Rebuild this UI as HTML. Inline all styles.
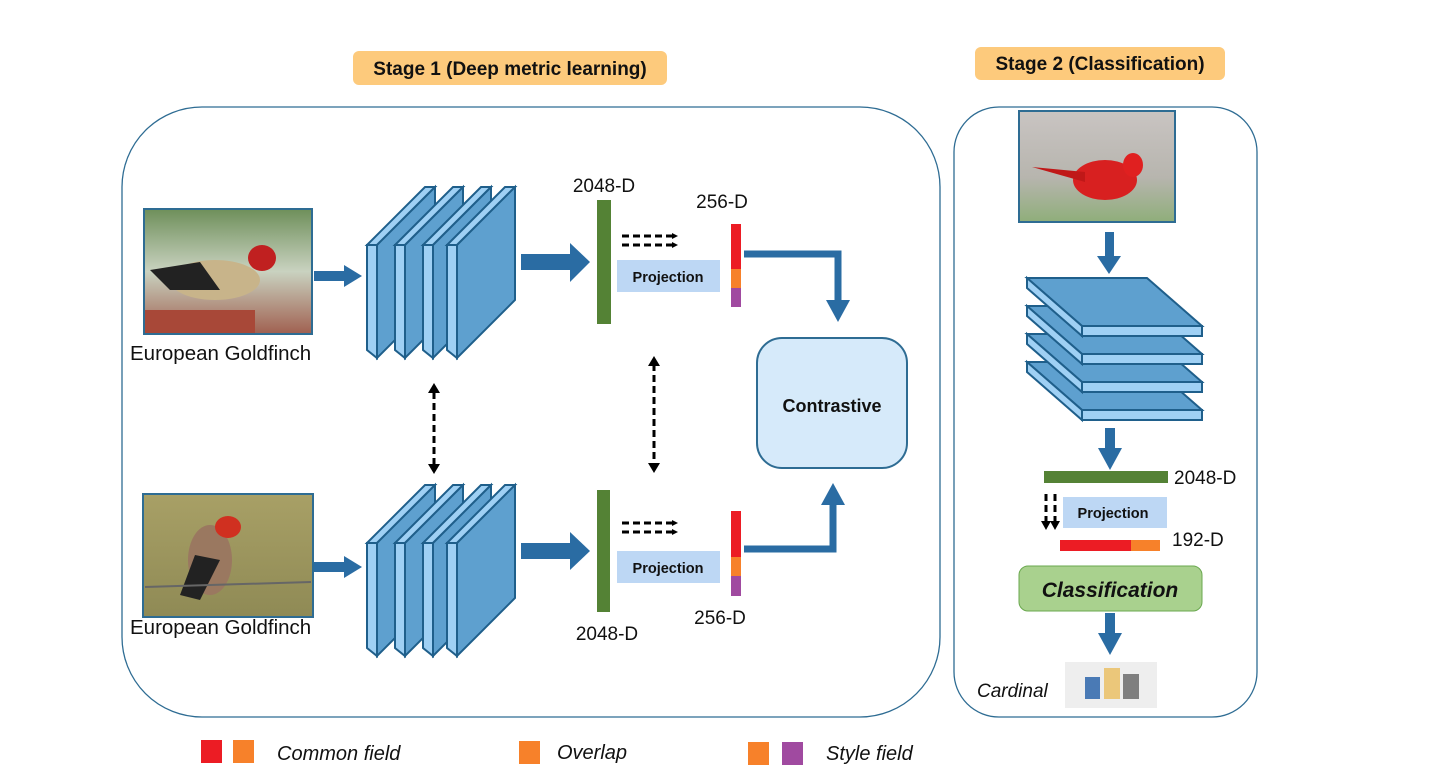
<!DOCTYPE html>
<html><head><meta charset="utf-8"><style>
html,body{margin:0;padding:0;background:#fff;}
svg{display:block;font-family:"Liberation Sans",sans-serif;}
</style></head><body>
<svg width="1440" height="768" viewBox="0 0 1440 768" xmlns="http://www.w3.org/2000/svg">
<defs>
<linearGradient id="g1" x1="0" y1="0" x2="0" y2="1"><stop offset="0" stop-color="#6e8f5a"/><stop offset="0.5" stop-color="#c9d2c0"/><stop offset="1" stop-color="#a06050"/></linearGradient>
<linearGradient id="g2" x1="0" y1="0" x2="0" y2="1"><stop offset="0" stop-color="#a8a066"/><stop offset="1" stop-color="#8f8a55"/></linearGradient>
<linearGradient id="g3" x1="0" y1="0" x2="0" y2="1"><stop offset="0" stop-color="#c9c4c2"/><stop offset="0.6" stop-color="#b7b5ae"/><stop offset="1" stop-color="#8fae7a"/></linearGradient>
<g id="slab">
<polygon points="0,58 58,0 68,0 10,58" fill="#9fd0f4" stroke="#1f5f8b" stroke-width="2"/>
<polygon points="0,58 10,58 10,171 0,163" fill="#9fd0f4" stroke="#1f5f8b" stroke-width="2"/>
<polygon points="10,58 68,0 68,113 10,171" fill="#5ea0cf" stroke="#1f5f8b" stroke-width="2"/>
</g>
<g id="hslab">
<polygon points="0,0 120,0 175,48 55,48" fill="#5ea0cf" stroke="#1f5f8b" stroke-width="2"/>
<polygon points="0,0 55,48 55,58 0,10" fill="#9fd0f4" stroke="#1f5f8b" stroke-width="2"/>
<polygon points="55,48 175,48 175,58 55,58" fill="#9fd0f4" stroke="#1f5f8b" stroke-width="2"/>
</g>
<marker id="ah" markerWidth="6" markerHeight="6" refX="5" refY="3" orient="auto" markerUnits="userSpaceOnUse"><path d="M0,0 L6,3 L0,6z" fill="#000"/></marker>
</defs>

<rect x="353" y="51" width="314" height="34" rx="6" fill="#fdca7c"/>
<text x="510" y="75" text-anchor="middle" font-size="19" font-weight="bold" fill="#111">Stage 1 (Deep metric learning)</text>
<rect x="975" y="47" width="250" height="33" rx="6" fill="#fdca7c"/>
<text x="1100" y="70" text-anchor="middle" font-size="19" font-weight="bold" fill="#111">Stage 2 (Classification)</text>

<rect x="122" y="107" width="818" height="610" rx="80" fill="none" stroke="#2e6c93" stroke-width="1.3"/>
<rect x="954" y="107" width="303" height="610" rx="45" fill="none" stroke="#2e6c93" stroke-width="1.3"/>

<rect x="144" y="209" width="168" height="125" fill="url(#g1)" stroke="#2e6c93" stroke-width="2"/>
<ellipse cx="215" cy="280" rx="45" ry="20" fill="#c8b48a"/>
<polygon points="150,270 200,262 220,290 170,290" fill="#222"/>
<ellipse cx="262" cy="258" rx="14" ry="13" fill="#c02020"/>
<rect x="145" y="310" width="110" height="23" fill="#a84838"/>
<rect x="143" y="494" width="170" height="123" fill="url(#g2)" stroke="#2e6c93" stroke-width="2"/>
<ellipse cx="210" cy="560" rx="22" ry="35" fill="#9a7860"/>
<polygon points="195,555 220,560 200,600 180,595" fill="#222"/>
<ellipse cx="228" cy="527" rx="13" ry="11" fill="#d03020"/>
<line x1="145" y1="587" x2="311" y2="582" stroke="#666" stroke-width="2"/>
<rect x="1019" y="111" width="156" height="111" fill="url(#g3)" stroke="#2e6c93" stroke-width="2"/>
<ellipse cx="1105" cy="180" rx="32" ry="20" fill="#d82020"/>
<polygon points="1032,167 1085,172 1085,182" fill="#c01818"/>
<ellipse cx="1133" cy="165" rx="10" ry="12" fill="#e02020"/>

<text x="130" y="360" font-size="20.5" fill="#111">European Goldfinch</text>
<text x="130" y="634" font-size="20.5" fill="#111">European Goldfinch</text>

<rect x="314" y="271" width="32" height="10" fill="#2a6ca3"/><polygon points="344,265 362,276 344,287" fill="#2a6ca3"/>
<rect x="314" y="562" width="32" height="10" fill="#2a6ca3"/><polygon points="344,556 362,567 344,578" fill="#2a6ca3"/>

<use href="#slab" x="367" y="187"/><use href="#slab" x="395" y="187"/><use href="#slab" x="423" y="187"/><use href="#slab" x="447" y="187"/>
<use href="#slab" x="367" y="485"/><use href="#slab" x="395" y="485"/><use href="#slab" x="423" y="485"/><use href="#slab" x="447" y="485"/>

<rect x="521" y="254" width="50" height="16" fill="#2a6ca3"/><polygon points="570,243 590,262 570,282" fill="#2a6ca3"/>
<rect x="521" y="543" width="50" height="16" fill="#2a6ca3"/><polygon points="570,532 590,551 570,570" fill="#2a6ca3"/>

<rect x="597" y="200" width="14" height="124" fill="#548235"/>
<rect x="597" y="490" width="13" height="122" fill="#548235"/>
<text x="604" y="192" text-anchor="middle" font-size="19" fill="#111">2048-D</text>
<text x="607" y="640" text-anchor="middle" font-size="19" fill="#111">2048-D</text>

<g stroke="#000" stroke-width="3" stroke-dasharray="7,4" fill="none">
<line x1="622" y1="236" x2="677" y2="236" marker-end="url(#ah)"/>
<line x1="622" y1="245" x2="677" y2="245" marker-end="url(#ah)"/>
<line x1="622" y1="523" x2="677" y2="523" marker-end="url(#ah)"/>
<line x1="622" y1="532" x2="677" y2="532" marker-end="url(#ah)"/>
<line x1="434" y1="392" x2="434" y2="466"/>
<line x1="654" y1="364" x2="654" y2="464"/>
<line x1="1046" y1="494" x2="1046" y2="523"/>
<line x1="1055" y1="494" x2="1055" y2="523"/>
</g>
<g fill="#000">
<polygon points="428,393 434,383 440,393"/><polygon points="428,464 434,474 440,464"/>
<polygon points="648,366 654,356 660,366"/><polygon points="648,463 654,473 660,463"/>
<polygon points="1041,521 1046,530 1051,521"/><polygon points="1050,521 1055,530 1060,521"/>
</g>

<rect x="617" y="260" width="103" height="32" fill="#bdd7f4"/>
<text x="668" y="282" text-anchor="middle" font-size="14.5" font-weight="bold" fill="#111">Projection</text>
<rect x="617" y="551" width="103" height="32" fill="#bdd7f4"/>
<text x="668" y="573" text-anchor="middle" font-size="14.5" font-weight="bold" fill="#111">Projection</text>

<rect x="731" y="224" width="10" height="45" fill="#ec1c24"/><rect x="731" y="269" width="10" height="19" fill="#f7812a"/><rect x="731" y="288" width="10" height="19" fill="#a04aa0"/>
<rect x="731" y="511" width="10" height="46" fill="#ec1c24"/><rect x="731" y="557" width="10" height="19" fill="#f7812a"/><rect x="731" y="576" width="10" height="20" fill="#a04aa0"/>
<text x="722" y="208" text-anchor="middle" font-size="19" fill="#111">256-D</text>
<text x="720" y="624" text-anchor="middle" font-size="19" fill="#111">256-D</text>

<path d="M744,254 H838 V302" fill="none" stroke="#2a6ca3" stroke-width="7"/>
<polygon points="826,300 850,300 838,322" fill="#2a6ca3"/>
<path d="M744,549 H833 V503" fill="none" stroke="#2a6ca3" stroke-width="7"/>
<polygon points="821,505 845,505 833,483" fill="#2a6ca3"/>

<rect x="757" y="338" width="150" height="130" rx="25" fill="#d6eafa" stroke="#2e6c93" stroke-width="2"/>
<text x="832" y="412" text-anchor="middle" font-size="18" font-weight="bold" fill="#111">Contrastive</text>

<rect x="1105" y="232" width="9" height="26" fill="#2a6ca3"/><polygon points="1097,256 1121,256 1109,274" fill="#2a6ca3"/>
<use href="#hslab" x="1027" y="362"/><use href="#hslab" x="1027" y="334"/><use href="#hslab" x="1027" y="306"/><use href="#hslab" x="1027" y="278"/>
<rect x="1105" y="428" width="10" height="22" fill="#2a6ca3"/><polygon points="1098,448 1122,448 1110,470" fill="#2a6ca3"/>
<rect x="1044" y="471" width="124" height="12" fill="#548235"/>
<text x="1174" y="484" font-size="19" fill="#111">2048-D</text>
<rect x="1063" y="497" width="104" height="31" fill="#bdd7f4"/>
<text x="1113" y="518" text-anchor="middle" font-size="14.5" font-weight="bold" fill="#111">Projection</text>
<rect x="1060" y="540" width="71" height="11" fill="#ec1c24"/><rect x="1131" y="540" width="29" height="11" fill="#f7812a"/>
<text x="1172" y="546" font-size="19" fill="#111">192-D</text>
<rect x="1019" y="566" width="183" height="45" rx="9" fill="#a9d18e" stroke="#6aa84f" stroke-width="1"/>
<text x="1110" y="597" text-anchor="middle" font-size="21" font-weight="bold" font-style="italic" fill="#111">Classification</text>
<rect x="1105" y="613" width="10" height="22" fill="#2a6ca3"/><polygon points="1098,633 1122,633 1110,655" fill="#2a6ca3"/>
<rect x="1065" y="662" width="92" height="46" fill="#eeeeee"/>
<rect x="1085" y="677" width="15" height="22" fill="#4a7ab5"/>
<rect x="1104" y="668" width="16" height="31" fill="#ebc77a"/>
<rect x="1123" y="674" width="16" height="25" fill="#7f7f7f"/>
<text x="977" y="697" font-size="19" font-style="italic" fill="#111">Cardinal</text>

<rect x="201" y="740" width="21" height="23" fill="#ec1c24"/><rect x="233" y="740" width="21" height="23" fill="#f7812a"/>
<text x="277" y="760" font-size="20" font-style="italic" fill="#111">Common field</text>
<rect x="519" y="741" width="21" height="23" fill="#f7812a"/>
<text x="557" y="759" font-size="20" font-style="italic" fill="#111">Overlap</text>
<rect x="748" y="742" width="21" height="23" fill="#f7812a"/><rect x="782" y="742" width="21" height="23" fill="#a04aa0"/>
<text x="826" y="760" font-size="20" font-style="italic" fill="#111">Style field</text>
</svg>
</body></html>
